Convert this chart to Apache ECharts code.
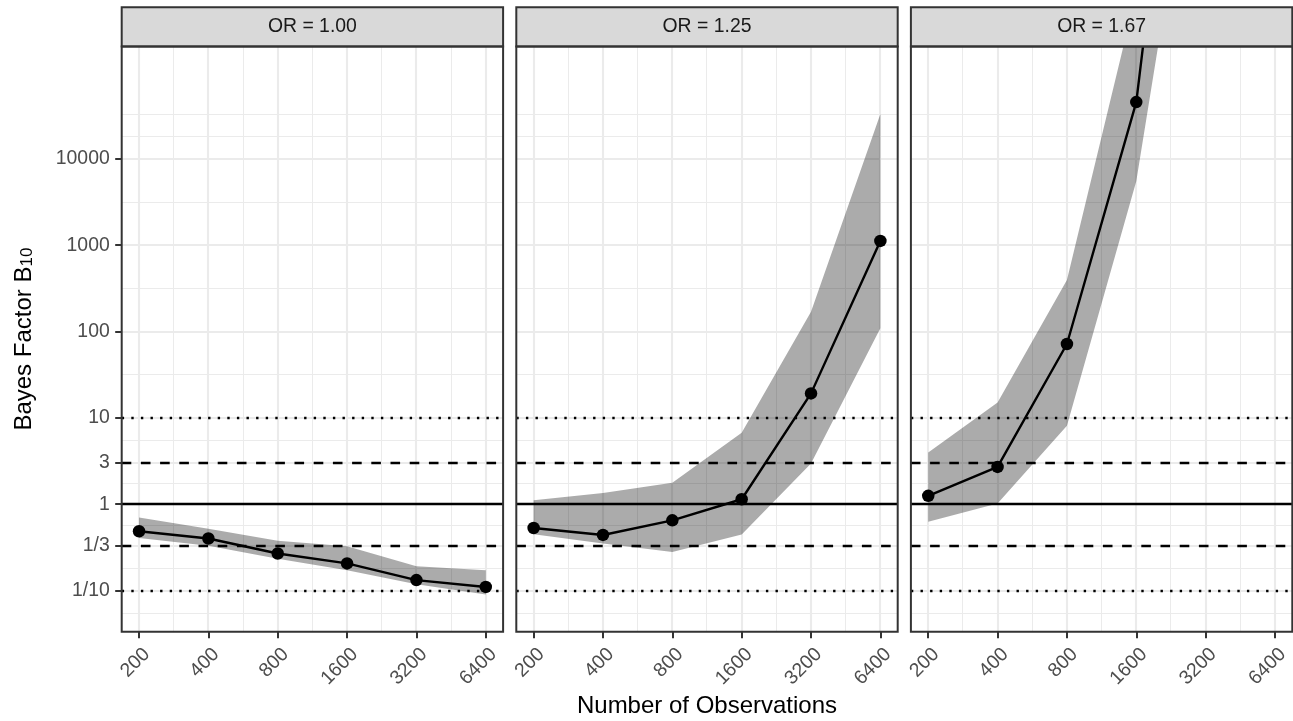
<!DOCTYPE html>
<html>
<head>
<meta charset="utf-8">
<script src="https://cdn.jsdelivr.net/npm/echarts@6/dist/echarts.min.js"></script>
<style>
html,body{margin:0;padding:0;background:#ffffff;}
#chart{width:1293px;height:721px;}
</style>
</head>
<body>
<div id="chart"></div>
<script>
// ---------------- DATA ----------------
const panelTitles = ['OR = 1.00', 'OR = 1.25', 'OR = 1.67'];
const observations = [200, 400, 800, 1600, 3200, 6400];
const xTickLabels = ['200', '400', '800', '1600', '3200', '6400'];
const yBreaks = [0.1, 1 / 3, 1, 3, 10, 100, 1000, 10000];
const yTickLabels = ['1/10', '1/3', '1', '3', '10', '100', '1000', '10000'];
const yLimits = [1 / 30, 200000];

// OR = 1.00
const medianOR100 = [0.486, 0.40, 0.268, 0.206, 0.132, 0.110];
const lowerOR100  = [0.407, 0.329, 0.234, 0.172, 0.118, 0.0897];
const upperOR100  = [0.70, 0.52, 0.376, 0.326, 0.191, 0.172];
// OR = 1.25
const medianOR125 = [0.53, 0.44, 0.65, 1.14, 19.2, 1120];
const lowerOR125  = [0.449, 0.35, 0.28, 0.446, 2.96, 109];
const upperOR125  = [1.11, 1.35, 1.77, 6.7, 169, 33000];
// OR = 1.67
const medianOR167 = [1.25, 2.7, 71.6, 45400, 2e11, 5e18];
const lowerOR167  = [0.624, 1.02, 8.1, 5500, 5.1e8, 1e15];
const upperOR167  = [3.98, 15.1, 395, 832000, 1e15, 1e22];

// reference lines
const refSolid = [1];
const refDashed = [3, 1 / 3];
const refDotted = [10, 0.1];

const panelMedians = [medianOR100, medianOR125, medianOR167];
const panelLowers = [lowerOR100, lowerOR125, lowerOR167];
const panelUppers = [upperOR100, upperOR125, upperOR167];

// ---------------- LAYOUT ----------------
const PANEL_LEFT = [121.7, 516.3, 910.9];
const PANEL_W = 381.4;
const PANEL_TOP = 46.5;
const PANEL_H = 585.2;
const STRIP_TOP = 7.3;
const FONT = '"Liberation Sans", Arial, Helvetica, sans-serif';

const xMajor = observations.map(v => Math.log2(v));
const xMinor = [];
for (let i = 0; i < xMajor.length - 1; i++) xMinor.push((xMajor[i] + xMajor[i + 1]) / 2);
const xMin = xMajor[0] - 0.05 * (xMajor[xMajor.length - 1] - xMajor[0]);
const xMax = xMajor[xMajor.length - 1] + 0.05 * (xMajor[xMajor.length - 1] - xMajor[0]);

const yMajor = yBreaks.map(v => Math.log10(v));
const yStep = yMajor[1] - yMajor[0];
const yExt = [yMajor[0] - yStep].concat(yMajor, [yMajor[yMajor.length - 1] + yStep]);
const yMinor = [];
for (let i = 0; i < yExt.length - 1; i++) yMinor.push((yExt[i] + yExt[i + 1]) / 2);
yMinor.push(yExt[0], yExt[yExt.length - 1]);
const yMin = Math.log10(yLimits[0]);
const yMax = Math.log10(yLimits[1]);

function labelFor(values, labels, v) {
  for (let i = 0; i < values.length; i++) if (Math.abs(values[i] - v) < 1e-6) return labels[i];
  return '';
}

const grids = [], xAxes = [], yAxes = [], series = [], graphics = [];

for (let p = 0; p < 3; p++) {
  grids.push({ left: PANEL_LEFT[p], top: PANEL_TOP, width: PANEL_W, height: PANEL_H,
               show: true, backgroundColor: '#ffffff', borderWidth: 0 });
  xAxes.push({
    type: 'value', gridIndex: p, min: xMin, max: xMax, position: 'bottom',
    axisLine: { show: false, onZero: false },
    splitLine: { show: false },
    axisTick: { show: true, customValues: xMajor, length: 6.5, lineStyle: { color: '#333333', width: 2 } },
    axisLabel: {
      show: true, customValues: xMajor, rotate: 45, margin: 4,
      verticalAlign: 'top', padding: [7, 5.5, 0, 0],
      color: '#4D4D4D', fontSize: 19.4, fontFamily: FONT,
      formatter: v => labelFor(xMajor, xTickLabels, v)
    }
  });
  yAxes.push({
    type: 'value', gridIndex: p, min: yMin, max: yMax, position: 'left',
    axisLine: { show: false, onZero: false },
    splitLine: { show: false },
    axisTick: { show: p === 0, customValues: yMajor, length: 6.5, lineStyle: { color: '#333333', width: 2 } },
    axisLabel: {
      show: p === 0, customValues: yMajor, margin: 12,
      color: '#4D4D4D', fontSize: 19.4, fontFamily: FONT,
      formatter: v => labelFor(yMajor, yTickLabels, v)
    }
  });

  const pts = observations.map((n, k) => [Math.log2(n), Math.log10(panelMedians[p][k])]);

  // grid lines (drawn through the axes' scales)
  const gridLines = [];
  xMinor.forEach(v => gridLines.push({ xAxis: v, lineStyle: { color: '#EBEBEB', width: 1.05, type: 'solid' } }));
  yMinor.forEach(v => gridLines.push({ yAxis: v, lineStyle: { color: '#EBEBEB', width: 1.05, type: 'solid' } }));
  xMajor.forEach(v => gridLines.push({ xAxis: v, lineStyle: { color: '#EBEBEB', width: 2.1, type: 'solid' } }));
  yMajor.forEach(v => gridLines.push({ yAxis: v, lineStyle: { color: '#EBEBEB', width: 2.1, type: 'solid' } }));
  series.push({
    type: 'line', xAxisIndex: p, yAxisIndex: p, data: pts, silent: true, z: 1,
    showSymbol: false, symbol: 'none', lineStyle: { opacity: 0 },
    markLine: { z: 1, silent: true, symbol: 'none', animation: false, label: { show: false },
                emphasis: { disabled: true }, data: gridLines }
  });

  // ribbon
  const band = observations.map((n, k) => [Math.log2(n), Math.log10(panelLowers[p][k]), Math.log10(panelUppers[p][k])]);
  series.push({
    type: 'custom', xAxisIndex: p, yAxisIndex: p, data: band, clip: true, z: 2, silent: true,
    encode: { x: 0, y: [1, 2] },
    renderItem: function (params, api) {
      if (params.dataIndexInside !== 0) return null;
      const n = params.dataInsideLength;
      const top = [], bot = [];
      for (let j = 0; j < n; j++) {
        top.push(api.coord([api.value(0, j), api.value(2, j)]));
        bot.push(api.coord([api.value(0, j), api.value(1, j)]));
      }
      return { type: 'polygon', shape: { points: top.concat(bot.reverse()) },
               style: { fill: 'rgba(0,0,0,0.33)', stroke: null } };
    }
  });

  // reference lines
  const refLines = [];
  refSolid.forEach(v => refLines.push({ yAxis: Math.log10(v), lineStyle: { color: '#000', width: 2.3, type: 'solid' } }));
  refDashed.forEach(v => refLines.push({ yAxis: Math.log10(v), lineStyle: { color: '#000', width: 2.3, type: [9.6, 9.6] } }));
  refDotted.forEach(v => refLines.push({ yAxis: Math.log10(v), lineStyle: { color: '#000', width: 2.3, type: [2.4, 7.2] } }));

  // median line + points
  series.push({
    type: 'line', xAxisIndex: p, yAxisIndex: p, data: pts, z: 4, clip: true,
    symbol: 'circle', symbolSize: 12.5, showSymbol: true,
    itemStyle: { color: '#000000' },
    lineStyle: { color: '#000000', width: 2.4 },
    emphasis: { disabled: true },
    markLine: { z: 3, silent: true, symbol: 'none', animation: false, label: { show: false },
                emphasis: { disabled: true }, data: refLines }
  });

  // strip
  graphics.push({
    type: 'rect', z: 100, silent: true,
    shape: { x: PANEL_LEFT[p], y: STRIP_TOP, width: PANEL_W, height: PANEL_TOP - STRIP_TOP },
    style: { fill: '#D9D9D9', stroke: '#333333', lineWidth: 2 }
  });
  graphics.push({
    type: 'text', z: 101, silent: true,
    x: PANEL_LEFT[p] + PANEL_W / 2, y: (STRIP_TOP + PANEL_TOP) / 2,
    style: { text: panelTitles[p], fill: '#1A1A1A', font: '19.4px ' + FONT, align: 'center', verticalAlign: 'middle' }
  });
  // panel border
  graphics.push({
    type: 'rect', z: 100, silent: true,
    shape: { x: PANEL_LEFT[p], y: PANEL_TOP, width: PANEL_W, height: PANEL_H },
    style: { fill: null, stroke: '#333333', lineWidth: 2 }
  });
}

// axis titles
graphics.push({
  type: 'text', z: 101, silent: true,
  x: (PANEL_LEFT[0] + PANEL_LEFT[2] + PANEL_W) / 2, y: 706,
  style: { text: 'Number of Observations', fill: '#000000', font: '24px ' + FONT, align: 'center', verticalAlign: 'middle' }
});
graphics.push({
  type: 'text', z: 101, silent: true,
  x: 22, y: PANEL_TOP + PANEL_H / 2, rotation: Math.PI / 2,
  style: {
    text: '{a|Bayes Factor B}{b|10}', align: 'center', verticalAlign: 'middle',
    rich: {
      a: { fontSize: 24, fontFamily: FONT, fill: '#000000', lineHeight: 28, verticalAlign: 'bottom' },
      b: { fontSize: 17, fontFamily: FONT, fill: '#000000', lineHeight: 12, verticalAlign: 'bottom' }
    }
  }
});

const chart = echarts.init(document.getElementById('chart'), null, { renderer: 'canvas' });
chart.setOption({
  animation: false,
  backgroundColor: '#ffffff',
  grid: grids,
  xAxis: xAxes,
  yAxis: yAxes,
  series: series,
  graphic: { elements: graphics }
});
</script>
</body>
</html>
